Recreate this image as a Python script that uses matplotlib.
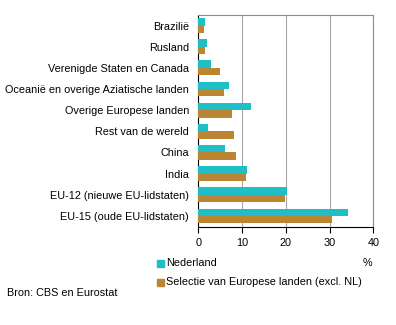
import numpy as np
import matplotlib
matplotlib.use("Agg")
import matplotlib.pyplot as plt
from matplotlib.patches import Rectangle

categories = [
    "Brazilië",
    "Rusland",
    "Verenigde Staten en Canada",
    "Oceanië en overige Aziatische landen",
    "Overige Europese landen",
    "Rest van de wereld",
    "China",
    "India",
    "EU-12 (nieuwe EU-lidstaten)",
    "EU-15 (oude EU-lidstaten)",
]
nederland = [1.5, 2.0, 2.9, 7.0, 12.0, 2.2, 6.1, 11.1, 20.3, 34.2]
selectie = [1.2, 1.45, 5.0, 5.8, 7.6, 8.2, 8.6, 10.8, 19.8, 30.6]
series_labels = ["Nederland", "Selectie van Europese landen (excl. NL)"]
xticks = [0, 10, 20, 30, 40]

teal = "#20BEC6"
brown = "#BC8533"

plt.rcParams["font.family"] = ["Liberation Sans", "DejaVu Sans"]
plt.rcParams["font.size"] = 7.85

fig = plt.figure(figsize=(3.96, 3.25), dpi=100)
ax = fig.add_axes([0.5008, 0.303, 0.442, 0.651])

y = np.arange(len(categories))
h = 0.35
ax.barh(y - h / 2, nederland, height=h, color=teal, zorder=3)
ax.barh(y + h / 2, selectie, height=h, color=brown, zorder=3)

ax.set_ylim(len(categories) - 0.5, -0.5)
ax.set_xlim(0, 40)
ax.set_yticks(y)
ax.set_yticklabels(categories)
ax.tick_params(axis="y", length=0, pad=6.7)
ax.set_xticks(xticks)
ax.tick_params(axis="x", direction="out", length=4, width=0.8, color="black", pad=4)
ax.grid(axis="x", color="#a6a6a6", linewidth=0.8, zorder=0)

for side in ["top", "right"]:
    ax.spines[side].set_color("#8c8c8c")
    ax.spines[side].set_linewidth(0.8)
for side in ["left", "bottom"]:
    ax.spines[side].set_color("black")
    ax.spines[side].set_linewidth(0.8)

# legend
for i, (lab, col) in enumerate(zip(series_labels, [teal, brown])):
    ypix = 263.5 + i * 18.5
    fig.patches.append(Rectangle((157 / 396, 1 - (ypix + 3.5) / 325), 7 / 396, 7 / 325,
                                 transform=fig.transFigure, color=col, figure=fig))
    fig.text(166 / 396, 1 - ypix / 325, lab, va="center", ha="left")

fig.text(367 / 396, 1 - 263 / 325, "%", va="center", ha="center")
fig.text(7 / 396, 1 - 293 / 325, "Bron: CBS en Eurostat", va="center", ha="left")

fig.savefig("out.png", dpi=100)
